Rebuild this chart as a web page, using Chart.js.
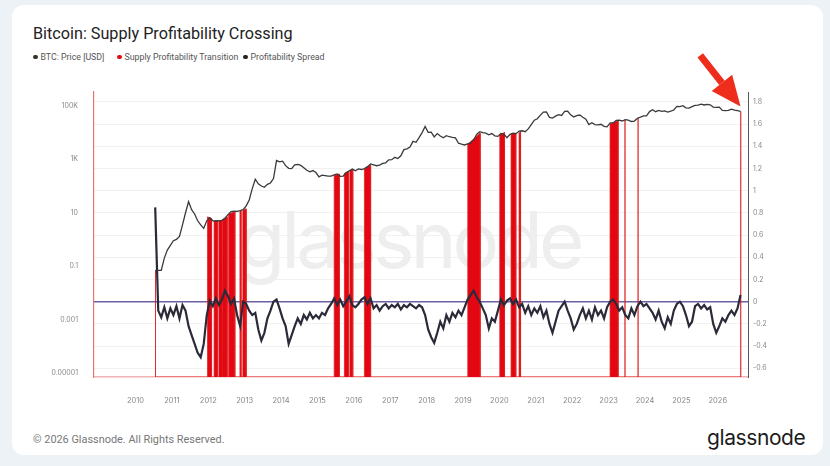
<!DOCTYPE html>
<html>
<head>
<meta charset="utf-8">
<script src="https://cdn.jsdelivr.net/npm/chart.js@4.4.1/dist/chart.umd.min.js"></script>
<style>
  html, body { margin: 0; padding: 0; }
  body { width: 830px; height: 466px; background: #edf2f7; position: relative; overflow: hidden; font-family: Roboto, "Noto Sans", sans-serif; }
  .card { position: absolute; left: 12px; top: 5px; width: 811px; height: 450px; background: #fff; border-radius: 12px; }
  .title { position: absolute; left: 33px; top: 24px; font-size: 16.2px; font-weight: 400; color: #222; }
  .legend span { position: absolute; top: 52px; font-size: 8.8px; color: #555; display: flex; align-items: center; white-space: nowrap; }
  .legend i { display: inline-block; width: 4.5px; height: 4.5px; border-radius: 50%; margin-right: 3px; }
  .footer { position: absolute; left: 33px; top: 433px; font-size: 10.9px; color: #777; }
  .logo { position: absolute; left: 707px; top: 425px; font-family: Inter, sans-serif; font-size: 21px; color: #1c1c1c; letter-spacing: -0.4px; }
  canvas { position: absolute; left: 0; top: 0; }
</style>
</head>
<body>
<div class="card"></div>
<div class="title">Bitcoin: Supply Profitability Crossing</div>
<div class="legend">
  <span style="left:33px"><i style="background:#333"></i>BTC: Price [USD]</span>
  <span style="left:117px"><i style="background:#e30613"></i>Supply Profitability Transition</span>
  <span style="left:243px"><i style="background:#222"></i>Profitability Spread</span>
</div>
<div class="footer">© 2026 Glassnode. All Rights Reserved.</div>
<div class="logo">glassnode</div>
<canvas id="chart" width="830" height="466"></canvas>
<script>
// monthly samples, first one is Jul 2010
const START_YEAR = 2010 + 6 / 12;

const price = [
  0.07, 0.07, 0.07, 0.2, 0.4, 0.6,
  0.9, 1.0, 1.3, 3.5, 10, 26, 13, 9, 5, 3.5, 2.6, 5,
  6.5, 5, 4.9, 5, 5.2, 6.2, 8.5, 11, 11.5, 11.2, 12, 13,
  18, 30, 80, 180, 120, 100, 90, 115, 130, 190, 900, 800,
  850, 580, 460, 450, 620, 640, 590, 480, 390, 340, 380, 320,
  220, 255, 245, 235, 235, 260, 285, 230, 236, 315, 375, 430,
  370, 435, 415, 450, 530, 670, 625, 575, 610, 700, 740, 960,
  970, 1190, 1070, 1350, 2300, 2480, 2870, 4700, 4340, 6450, 10000, 17000,
  10200, 10400, 6900, 9200, 7500, 6400, 7700, 7000, 6600, 6300, 4000, 3700,
  3450, 3800, 4100, 5300, 8500, 10800, 10000, 9600, 8300, 9200, 7600, 7200,
  9300, 8600, 6400, 8600, 9450, 9140, 11300, 11700, 10800, 13800, 19700, 29000,
  33100, 45200, 58800, 60000, 37300, 35000, 41500, 47100, 43800, 62000, 63000, 46300,
  38500, 43200, 45500, 37700, 31800, 19800, 23300, 20000, 19400, 20500, 17200, 16500,
  23100, 23100, 28500, 29200, 27200, 30500, 29200, 26000, 27000, 34600, 37700, 42300,
  42600, 61100, 71300, 60600, 67500, 62700, 64600, 59000, 63300, 70200, 96400, 93400,
  102400, 84400, 82500, 94200, 104600, 107100, 115700, 108200, 114000, 109500, 90400, 87500,
  90000, 68000, 66000, 68000, 76000, 70000, 66000, 62000
];

const spread = [
  0.85, -0.08, -0.14, -0.05, -0.15, -0.06,
  -0.12, -0.04, -0.15, -0.03, -0.08, -0.22, -0.3, -0.38, -0.46, -0.5, -0.38, -0.12,
  0.01, -0.04, 0.03, -0.03, 0.02, 0.1, 0.05, -0.02, 0.03, -0.12, -0.22, 0.0,
  -0.02, -0.08, -0.12, -0.1, -0.25, -0.35, -0.28, -0.15, -0.08, 0.0, 0.02, -0.06,
  -0.15, -0.22, -0.38, -0.3, -0.22, -0.15, -0.2, -0.12, -0.16, -0.1, -0.15, -0.12,
  -0.15, -0.1, -0.12, -0.06, -0.02, 0.03, -0.03, 0.02, -0.04, 0.0, 0.05, -0.03,
  -0.05, -0.02, 0.02, 0.04, -0.02, 0.03, -0.06, -0.03, -0.08, -0.04, -0.02, -0.06,
  -0.03, -0.05, -0.02, -0.07, -0.03, -0.05, -0.02, -0.04, -0.06, -0.03, -0.05, -0.12,
  -0.25, -0.32, -0.37, -0.28, -0.18, -0.24, -0.12, -0.18, -0.1, -0.14, -0.08, -0.12,
  -0.05, 0.02, 0.06, 0.1, 0.04, 0.0, -0.06, -0.12, -0.24, -0.15, -0.18, -0.08,
  0.02, -0.03, 0.01, 0.03, -0.02, 0.02, -0.05, -0.02, -0.1, -0.04, -0.12, -0.06,
  -0.1, -0.04, -0.14, -0.08, -0.2, -0.28, -0.18, -0.08, -0.04, 0.0, -0.08, -0.15,
  -0.25, -0.2, -0.12, -0.06, -0.15, -0.08, -0.16, -0.05, -0.12, -0.08, -0.15, -0.05,
  0.0, 0.02, -0.02, -0.08, -0.05, -0.12, -0.15, -0.06, -0.12, -0.04, 0.0, -0.04,
  -0.02, -0.06, -0.1, -0.16, -0.08, -0.18, -0.24, -0.14, -0.2, -0.08, -0.02, 0.0,
  -0.04, -0.12, -0.22, -0.18, -0.04, -0.02, -0.06, -0.03, -0.07, -0.05, -0.2, -0.28,
  -0.22, -0.15, -0.18, -0.12, -0.08, -0.12, -0.06, 0.06
];

// transition periods: start, end (decimal year) and price at the top of each
const transStart = [2010.55, 2011.98, 2012.16, 2012.29, 2012.40, 2012.56, 2012.87, 2012.95, 2015.46, 2015.74, 2015.89, 2016.29, 2019.13, 2020.01, 2020.32, 2020.54, 2023.04, 2023.45, 2023.81, 2026.63];
const transEnd   = [2010.55, 2012.09, 2012.25, 2012.38, 2012.52, 2012.73, 2012.90, 2013.04, 2015.60, 2015.85, 2015.97, 2016.46, 2019.47, 2020.14, 2020.45, 2020.58, 2023.26, 2023.45, 2023.81, 2026.63];
const transTopStart = [0.07, 7, 5, 5, 5.5, 9, 11.5, 12, 250, 300, 380, 430, 3700, 8500, 8800, 9500, 21000, 30000, 35000, 62000];
const transTopEnd   = [0.07, 6, 5, 5.2, 7, 11, 11.5, 14, 280, 360, 420, 600, 9500, 10000, 9500, 11000, 28000, 30000, 35000, 62000];

const yearTicks = [2010, 2011, 2012, 2013, 2014, 2015, 2016, 2017, 2018, 2019, 2020, 2021, 2022, 2023, 2024, 2025, 2026];
const priceTicks = [1e-5, 1e-3, 0.1, 10, 1e3, 1e5];
const priceTickLabels = ['0.00001', '0.001', '0.1', '10', '1K', '100K'];
const spreadTicks = [-0.6, -0.4, -0.2, 0, 0.2, 0.4, 0.6, 0.8, 1, 1.2, 1.4, 1.6, 1.8];

const X_MIN = 2008.86, X_MAX = 2026.83;
const PRICE_MIN = Math.pow(10, -5.15), PRICE_MAX = Math.pow(10, 5.52);
const SPREAD_MIN = -0.678, SPREAD_MAX = 1.889;

const months = price.map((_, i) => START_YEAR + (i + 0.5) / 12);

// each transition becomes a closed block from the axis floor up to the price
const transPoints = [];
transStart.forEach((s, i) => {
  transPoints.push({ x: s, y: PRICE_MIN });
  transPoints.push({ x: s, y: transTopStart[i] });
  transPoints.push({ x: transEnd[i], y: transTopEnd[i] });
  transPoints.push({ x: transEnd[i], y: PRICE_MIN });
});

const watermark = {
  id: 'watermark',
  beforeDatasetsDraw(chart) {
    const { ctx, chartArea } = chart;
    ctx.save();
    ctx.font = '400 78px Inter, sans-serif';
    ctx.letterSpacing = '-4px';
    ctx.fillStyle = '#eeeeee';
    ctx.textAlign = 'center';
    ctx.textBaseline = 'alphabetic';
    ctx.fillText('glassnode', (chartArea.left + chartArea.right) / 2 - 12, chartArea.top + 176);
    ctx.restore();
  }
};

const arrow = {
  id: 'arrow',
  afterDraw(chart) {
    const { ctx } = chart;
    const xs = chart.scales.x, ys = chart.scales.y;
    const last = price.length - 1;
    const tipX = xs.getPixelForValue(months[last]);
    const tipY = ys.getPixelForValue(price[last]) - 5;
    const ux = 0.62, uy = 0.785;
    const len = 65, head = 30, half = 13;
    const bx = tipX - ux * head, by = tipY - uy * head;
    ctx.save();
    ctx.strokeStyle = '#ef2d1c';
    ctx.fillStyle = '#ef2d1c';
    ctx.lineWidth = 7;
    ctx.beginPath();
    ctx.moveTo(tipX - ux * len, tipY - uy * len);
    ctx.lineTo(bx, by);
    ctx.stroke();
    ctx.beginPath();
    ctx.moveTo(tipX, tipY);
    ctx.lineTo(bx - uy * half, by + ux * half);
    ctx.lineTo(bx + uy * half, by - ux * half);
    ctx.closePath();
    ctx.fill();
    ctx.restore();
  }
};

new Chart(document.getElementById('chart'), {
  type: 'line',
  data: {
    datasets: [
      {
        label: 'BTC: Price [USD]',
        data: months.map((t, i) => ({ x: t, y: price[i] })),
        yAxisID: 'y',
        borderColor: '#3a3a3a',
        borderWidth: 1.3,
        pointRadius: 0,
        order: 1
      },
      {
        label: 'Profitability Spread',
        data: months.map((t, i) => ({ x: t, y: spread[i] })),
        yAxisID: 'y2',
        borderColor: '#2a2a38',
        borderWidth: 2.2,
        pointRadius: 0,
        order: 2
      },
      {
        label: 'Supply Profitability Transition',
        data: transPoints,
        yAxisID: 'y',
        borderColor: 'rgba(226,30,30,0.75)',
        backgroundColor: '#e30613',
        borderWidth: 1,
        pointRadius: 0,
        fill: 'start',
        order: 3
      }
    ]
  },
  options: {
    responsive: false,
    animation: false,
    layout: { padding: { top: 92, left: 0, right: 0, bottom: 0 } },
    plugins: { legend: { display: false }, tooltip: { enabled: false } },
    scales: {
      x: {
        type: 'linear',
        min: X_MIN,
        max: X_MAX,
        grid: { display: false },
        border: { color: '#f2b4b4', width: 1.5 },
        afterBuildTicks: (scale) => { scale.ticks = yearTicks.map(v => ({ value: v })); },
        afterFit: (scale) => { scale.height = 89; },
        ticks: {
          color: '#888',
          font: { family: 'Inter', size: 7.5 },
          padding: 11,
          maxRotation: 0,
          callback: (v) => String(v)
        }
      },
      y: {
        type: 'logarithmic',
        position: 'left',
        min: PRICE_MIN,
        max: PRICE_MAX,
        grid: { display: false },
        border: { color: '#e57575', width: 1.2 },
        afterBuildTicks: (scale) => { scale.ticks = priceTicks.map(v => ({ value: v })); },
        afterFit: (scale) => { scale.width = 94; },
        ticks: {
          color: '#888',
          font: { family: 'Inter', size: 7 },
          padding: 8,
          callback: (v) => priceTickLabels[priceTicks.indexOf(v)]
        }
      },
      y2: {
        type: 'linear',
        position: 'right',
        min: SPREAD_MIN,
        max: SPREAD_MAX,
        grid: {
          drawTicks: false,
          color: (c) => c.tick && c.tick.value === 0 ? '#6d5fa3' : '#f1f1f1',
          lineWidth: (c) => c.tick && c.tick.value === 0 ? 1.5 : 1
        },
        border: { color: '#555', width: 1 },
        afterBuildTicks: (scale) => { scale.ticks = spreadTicks.map(v => ({ value: v })); },
        afterFit: (scale) => { scale.width = 82; },
        ticks: {
          color: '#888',
          font: { family: 'Inter', size: 7 },
          padding: 5,
          callback: (v) => String(Number(v.toFixed(1)))
        }
      }
    }
  },
  plugins: [watermark, arrow]
});
</script>
</body>
</html>
